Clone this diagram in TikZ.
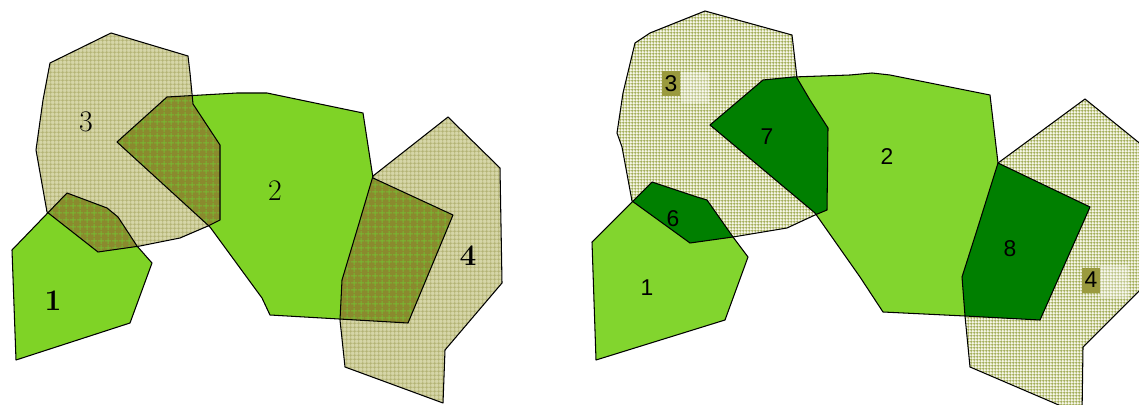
\documentclass[tikz,border=0pt]{standalone}
\usepackage{fontspec}
\newfontfamily\arialf{Liberation Sans}
\usetikzlibrary{patterns}
\pgfdeclarepatternformonly{gridR}{\pgfpointorigin}{\pgfqpoint{1.8pt}{1.8pt}}{\pgfqpoint{1.8pt}{1.8pt}}{%
  \pgfsetlinewidth{0.55pt}%
  \pgfpathmoveto{\pgfqpoint{0pt}{0.9pt}}\pgfpathlineto{\pgfqpoint{1.8pt}{0.9pt}}%
  \pgfpathmoveto{\pgfqpoint{0.9pt}{0pt}}\pgfpathlineto{\pgfqpoint{0.9pt}{1.8pt}}%
  \pgfusepath{stroke}}
\pgfdeclarepatternformonly{gridL}{\pgfpointorigin}{\pgfqpoint{2.4pt}{2.4pt}}{\pgfqpoint{2.4pt}{2.4pt}}{%
  \pgfsetlinewidth{0.5pt}%
  \pgfpathmoveto{\pgfqpoint{0pt}{1.2pt}}\pgfpathlineto{\pgfqpoint{2.4pt}{1.2pt}}%
  \pgfpathmoveto{\pgfqpoint{1.2pt}{0pt}}\pgfpathlineto{\pgfqpoint{1.2pt}{2.4pt}}%
  \pgfusepath{stroke}}
\pgfdeclarepatternformonly{gridD}{\pgfpointorigin}{\pgfqpoint{4pt}{4pt}}{\pgfqpoint{4pt}{4pt}}{%
  \pgfsetlinewidth{0.7pt}%
  \pgfpathmoveto{\pgfqpoint{0pt}{2pt}}\pgfpathlineto{\pgfqpoint{4pt}{2pt}}%
  \pgfpathmoveto{\pgfqpoint{2pt}{0pt}}\pgfpathlineto{\pgfqpoint{2pt}{4pt}}%
  \pgfusepath{stroke}}
\definecolor{lgreen}{HTML}{7FD326}
\definecolor{rgreen}{HTML}{82D52E}
\definecolor{dgreen}{HTML}{007F00}
\definecolor{beigeL}{HTML}{D6D6A8}
\definecolor{beigeLine}{HTML}{B0B070}
\definecolor{darkL}{HTML}{8A8A2E}
\definecolor{darkLine}{HTML}{78B832}
\definecolor{paleR}{HTML}{F7F7EA}
\definecolor{hatchR}{HTML}{9AA64A}
\definecolor{boxR}{HTML}{9A9A3E}
\begin{document}
\begin{tikzpicture}[x=0.02cm,y=-0.02cm,
  outline/.style={draw=black, line width=0.6pt, line join=round},
  hatchL/.style={fill=beigeL, postaction={pattern=gridL, pattern color=beigeLine}},
  overL/.style={fill=darkL, postaction={pattern=gridD, pattern color=darkLine}},
  hatchRs/.style={fill=paleR, postaction={pattern=gridR, pattern color=hatchR}},
  labL/.style={font=\fontsize{17}{19}\selectfont, inner sep=0pt},
  labR/.style={font=\arialf\fontsize{13}{15}\selectfont, inner sep=0pt},
  lbox/.style={fill=boxR, minimum width=18*0.02cm, minimum height=25*0.02cm, inner sep=0pt, font=\arialf\fontsize{13}{15}\selectfont}]
\useasboundingbox (0,0) rectangle (1139,405);
\clip (0,0) rectangle (1139,405);
\fill[white] (0,0) rectangle (1139,405);
% ---------- left panel ----------
\def\LA{(12,250) -- (67,193) -- (107,208) -- (118,217) -- (137,246) -- (152,263) -- (130,323) -- (16,360) -- cycle}
\def\LB{(117,142) -- (167,97) -- (237,93) -- (267,93) -- (363,113) -- (373,178) -- (453,215) -- (408,323) -- (270,315) -- (262,298) -- (210,227) -- cycle}
\def\LC{(50,63) -- (111,33) -- (188,56) -- (190,73) -- (193,104) -- (220,145) -- (220,220) -- (208,226) -- (180,238) -- (140,246) -- (98,252) -- (47,212) -- (36,150) -- (43,100) -- cycle}
\def\LD{(373,176) -- (448,117) -- (500,168) -- (502,283) -- (445,350) -- (443,403) -- (345,367) -- (340,320) -- (342,280) -- (360,220) -- cycle}
\path[hatchL] \LC;
\path[hatchL] \LD;
\fill[lgreen] \LA;
\fill[lgreen] \LB;
\begin{scope}\clip \LA; \path[overL] \LC; \end{scope}
\begin{scope}\clip \LB; \path[overL] \LC; \end{scope}
\begin{scope}\clip \LB; \path[overL] \LD; \end{scope}
\path[outline] \LC;
\path[outline] \LD;
\path[outline] \LA;
\path[outline] \LB;
\node[labL] (l3) at (86,122) {3};
\node[labL] (l1) at (53,301) {\bfseries 1};
\node[labL] (l2) at (275,191) {2};
\node[labL] (l4) at (468,256) {\bfseries 4};
% ---------- right panel ----------
\def\RA{(592,242) -- (652,182) -- (697,197) -- (707,200) -- (733,237) -- (748,257) -- (725,320) -- (596,360) -- cycle}
\def\RB{(710,125) -- (763,80) -- (793,77) -- (850,75) -- (872,73) -- (890,75) -- (990,95) -- (998,163) -- (1090,207) -- (1040,320) -- (965,316) -- (883,312) -- (860,277) -- (815,213) -- cycle}
\def\RC{(635,43) -- (650,33) -- (705,11) -- (792,35) -- (797,78) -- (810,100) -- (828,128) -- (827,210) -- (815,215) -- (787,228) -- (733,237) -- (690,243) -- (632,201) -- (622,147) -- (617,133) -- (623,93) -- cycle}
\def\RD{(998,163) -- (1085,99) -- (1148,150) -- (1148,282) -- (1083,347) -- (1082,415) -- (970,367) -- (965,316) -- (962,277) -- (977,230) -- cycle}
\path[hatchRs] \RC;
\path[hatchRs] \RD;
\fill[rgreen] \RA;
\fill[rgreen] \RB;
\begin{scope}\clip \RA; \fill[dgreen] \RC; \end{scope}
\begin{scope}\clip \RB; \fill[dgreen] \RC; \end{scope}
\begin{scope}\clip \RB; \fill[dgreen] \RD; \end{scope}
\fill[white, opacity=0.3] (681,72) rectangle (709,103);
\fill[white, opacity=0.3] (1100,265) rectangle (1128,298);
\path[outline] \RC;
\path[outline] \RD;
\path[outline] \RA;
\path[outline] \RB;
\node[lbox] (r3) at (671,84) {3};
\node[lbox] (r4) at (1091,280) {4};
\node[labR] (r1) at (647,288) {1};
\node[labR] (r6) at (673,219) {6};
\node[labR] (r7) at (767,137) {7};
\node[labR] (r2) at (887,157) {2};
\node[labR] (r8) at (1010,249) {8};
\end{tikzpicture}
\end{document}
